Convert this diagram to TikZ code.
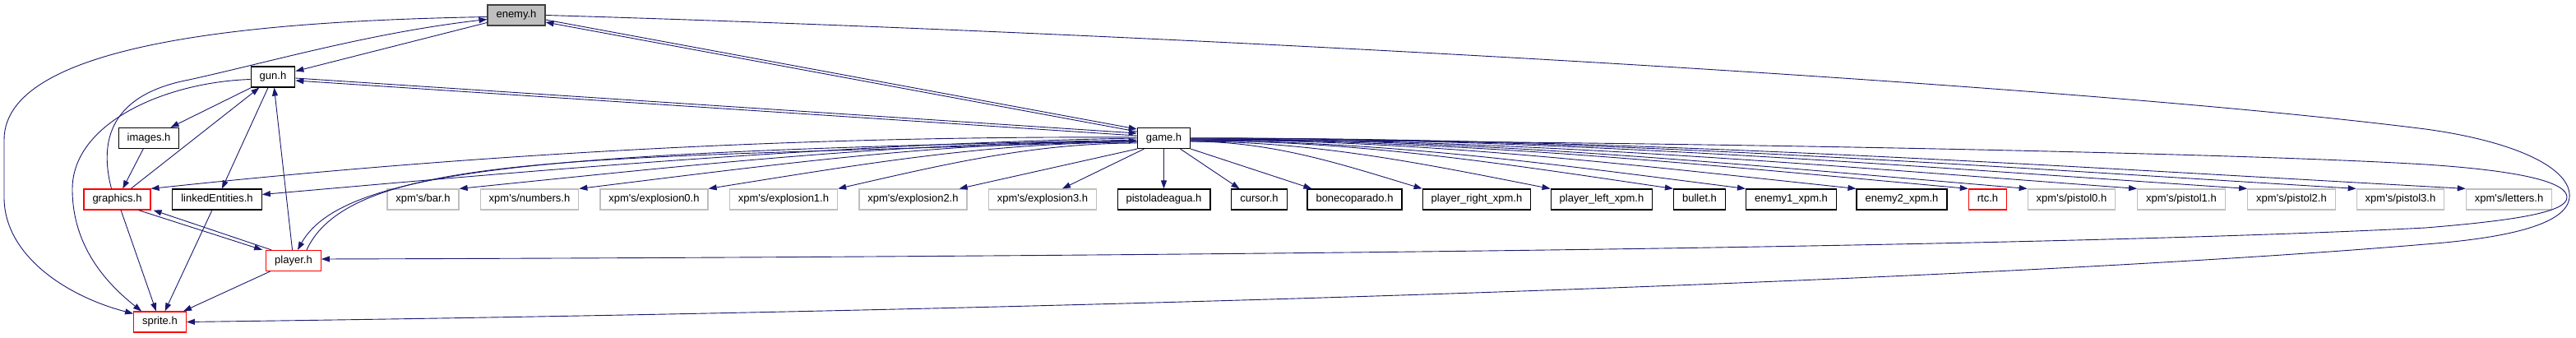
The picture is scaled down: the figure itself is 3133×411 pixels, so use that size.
\documentclass[tikz,border=0pt]{standalone}
\usepackage{fontspec}
\setmainfont{Liberation Sans}
\usetikzlibrary{positioning,arrows.meta}
\definecolor{edgeblue}{HTML}{191970}
\definecolor{extgray}{HTML}{BFBFBF}

\begin{document}
\begin{tikzpicture}[
		x=1pt, y=-1pt,
		box/.style={draw=black, fill=white, line width=1.2pt, font=\fontsize{13}{15}\selectfont, inner xsep=10.5pt, inner ysep=0pt, text height=10pt, text depth=3pt, minimum height=25pt},
		redbox/.style={box, draw=red},
		extbox/.style={box, draw=extgray},
		rootbox/.style={box, fill=extgray, draw=black!75},
		arr/.style={-{Triangle[length=10pt,width=7pt]}, color=edgeblue, line width=0.9pt}
		]
		\fill[white] (0,0) rectangle (3133,411);
		\useasboundingbox (0,0) rectangle (3133,411);
		
		\node[rootbox] (enemy) at (628,18.5) {enemy.h};
		\node[box] (gun) at (332,93.5) {gun.h};
		\node[box] (images) at (181,168) {images.h};
		\node[box] (game) at (1415.5,168) {game.h};
		\node[redbox] (graphics) at (142.5,242.5) {graphics.h};
		\node[box] (linked) at (264,242.5) {linkedEntities.h};
		\node[extbox] (bar) at (514.5,242.5) {xpm\textquotesingle s/bar.h};
		\node[extbox] (numbers) at (644,242.5) {xpm\textquotesingle s/numbers.h};
		\node[extbox] (expl0) at (795.5,242.5) {xpm\textquotesingle s/explosion0.h};
		\node[extbox] (expl1) at (953,242.5) {xpm\textquotesingle s/explosion1.h};
		\node[extbox] (expl2) at (1110.5,242.5) {xpm\textquotesingle s/explosion2.h};
		\node[extbox] (expl3) at (1268,242.5) {xpm\textquotesingle s/explosion3.h};
		\node[box] (pistola) at (1415.5,242.5) {pistoladeagua.h};
		\node[box] (cursor) at (1531.5,242.5) {cursor.h};
		\node[box] (boneco) at (1647.5,242.5) {bonecoparado.h};
		\node[box] (plright) at (1796,242.5) {player\_right\_xpm.h};
		\node[box] (plleft) at (1948,242.5) {player\_left\_xpm.h};
		\node[box] (bullet) at (2067,242.5) {bullet.h};
		\node[box] (en1xpm) at (2178.5,242.5) {enemy1\_xpm.h};
		\node[box] (en2xpm) at (2313,242.5) {enemy2\_xpm.h};
		\node[redbox] (rtc) at (2417.5,242.5) {rtc.h};
		\node[extbox] (pistol0) at (2519.5,242.5) {xpm\textquotesingle s/pistol0.h};
		\node[extbox] (pistol1) at (2653,242.5) {xpm\textquotesingle s/pistol1.h};
		\node[extbox] (pistol2) at (2787,242.5) {xpm\textquotesingle s/pistol2.h};
		\node[extbox] (pistol3) at (2919.5,242.5) {xpm\textquotesingle s/pistol3.h};
		\node[extbox] (letters) at (3051.5,242.5) {xpm\textquotesingle s/letters.h};
		\node[redbox] (player) at (357,317) {player.h};
		\node[redbox] (sprite) at (194.5,391.5) {sprite.h};
		
		% enemy.h
		\draw[arr] (enemy) -- (gun);
		\draw[arr] ([yshift=-5.5pt]enemy.east) -- ([yshift=11pt]game.west);
		\draw[arr] ([yshift=8pt]game.west) -- ([yshift=-8.5pt]enemy.east);
		\draw[arr] ([yshift=-2pt]enemy.west) .. controls (350,25) and (5,45) .. (5,170) -- (5,240) .. controls (5,310) and (80,360) .. ([yshift=-3pt]sprite.north west);
		\draw[arr] (enemy.east) .. controls (1400,40) and (2500,100) .. (2950,157) .. controls (3060,172) and (3128,205) .. (3125,240) .. controls (3122,275) and (3040,290) .. (2950,297) .. controls (2500,335) and (1500,375) .. (sprite.east);
		
		% gun.h, images.h, graphics.h
		\draw[arr] ([yshift=-1.5pt]gun.east) -- ([yshift=6pt]game.west);
		\draw[arr] ([yshift=3pt]game.west) -- ([yshift=-4.5pt]gun.east);
		\draw[arr] (gun) -- (images);
		\draw[arr] (gun) -- (linked);
		\draw[arr] ([yshift=-3pt]gun.west) .. controls (200,100) and (88,150) .. (88,230) .. controls (88,300) and (130,345) .. ([xshift=10pt]sprite.north west);
		\draw[arr] (images) -- (graphics);
		\draw[arr] (graphics) -- (gun);
		\draw[arr] (player) -- (gun);
		\draw[arr] ([xshift=-7pt]graphics.north) .. controls (120,170) and (135,115) .. (230,97) .. controls (330,75) and (450,40) .. ([yshift=-5pt]enemy.west);
		\draw[arr] (graphics) -- (sprite);
		\draw[arr] ([xshift=26pt]graphics.south) -- ([xshift=-4pt]player.north west);
		\draw[arr] ([xshift=7pt]player.north west) -- ([xshift=3pt]graphics.south east);
		\draw[arr] (linked) -- (sprite);
		\draw[arr] (player) -- (sprite);
		
		% game.h
		\draw[arr] ([yshift=1pt]game.west) .. controls (1000,165) and (600,185) .. (graphics.north east);
		\draw[arr] (game.west) .. controls (1000,175) and (600,212) .. ([yshift=6pt]linked.east);
		\draw[arr] ([yshift=-2pt]game.west) .. controls (700,185) and (420,200) .. ([xshift=5pt]player.north);
		\draw[arr] ([xshift=16pt]player.north) .. controls (430,180) and (750,195) .. ([yshift=-3pt]game.west);
		\draw[arr] ([yshift=-2pt]game.east) .. controls (2000,172) and (2700,185) .. (2950,200) .. controls (3070,208) and (3122,222) .. (3122,240) .. controls (3122,258) and (3060,268) .. (2950,277) .. controls (2500,300) and (1500,312) .. ([yshift=2pt]player.east);
		\draw[arr] ([yshift=-4pt]game.west) .. controls +(-288,0) and +(288,-29) .. (bar.north east);
		\draw[arr] ([yshift=-4pt]game.west) .. controls +(-237,0) and +(237,-29) .. (numbers.north east);
		\draw[arr] ([yshift=-5pt]game.west) .. controls +(-182,0) and +(182,-29) .. (expl0.north east);
		\draw[arr] ([yshift=-6pt]game.west) .. controls +(-127,0) and +(127,-29) .. (expl1.north east);
		\draw[arr] (game.south west) -- ([xshift=-10pt]expl2.north east);
		\draw[arr] ([xshift=-24pt]game.south) -- ([xshift=24pt]expl3.north);
		\draw[arr] (game) -- (pistola);
		\draw[arr] ([xshift=20pt]game.south) -- ([xshift=-24pt]cursor.north);
		\draw[arr] (game.south east) -- ([xshift=6pt]boneco.north west);
		\draw[arr] ([yshift=-4pt]game.east) .. controls +(99,0) and +(-99,-30) .. (plright.north west);
		\draw[arr] ([yshift=-4pt]game.east) .. controls +(153,0) and +(-153,-30) .. (plleft.north west);
		\draw[arr] ([yshift=-3pt]game.east) .. controls +(205,0) and +(-205,-30) .. (bullet.north west);
		\draw[arr] ([yshift=-3pt]game.east) .. controls +(236,0) and +(-236,-30) .. (en1xpm.north west);
		\draw[arr] ([yshift=-2pt]game.east) .. controls +(284,0) and +(-284,-30) .. (en2xpm.north west);
		\draw[arr] ([yshift=-2pt]game.east) .. controls +(331,0) and +(-331,-30) .. (rtc.north west);
		\draw[arr] ([yshift=-1pt]game.east) .. controls +(356,0) and +(-356,-30) .. (pistol0.north west);
		\draw[arr] ([yshift=-1pt]game.east) .. controls +(403,0) and +(-403,-30) .. (pistol1.north west);
		\draw[arr] (game.east) .. controls +(449,0) and +(-449,-30) .. (pistol2.north west);
		\draw[arr] (game.east) .. controls +(496,0) and +(-496,-30) .. (pistol3.north west);
		\draw[arr] (game.east) .. controls +(543,0) and +(-543,-30) .. (letters.north west);
	\end{tikzpicture}
\end{document}
